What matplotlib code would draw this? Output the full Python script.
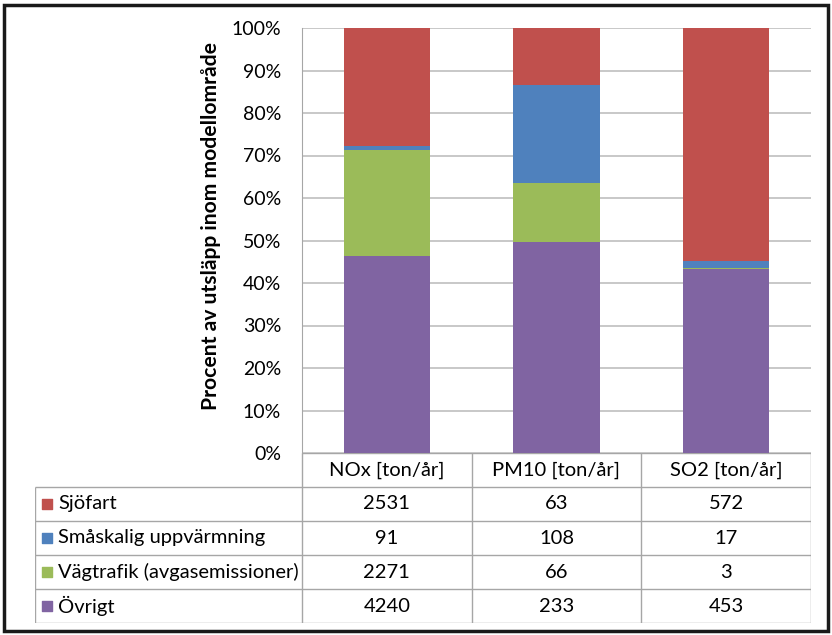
import matplotlib.pyplot as plt
from matplotlib.patches import Rectangle
import numpy as np

plt.rcParams['font.family'] = ['Lato', 'DejaVu Sans']

pollutants = ["NOx [ton/år]", "PM10 [ton/år]", "SO2 [ton/år]"]
sources = ["Sjöfart", "Småskalig uppvärmning", "Vägtrafik (avgasemissioner)", "Övrigt"]
sjofart = [2531, 63, 572]
smaskalig = [91, 108, 17]
vagtrafik = [2271, 66, 3]
ovrigt = [4240, 233, 453]
colors = {"Sjöfart": "#C0504D", "Småskalig uppvärmning": "#4F81BD",
          "Vägtrafik (avgasemissioner)": "#9BBB59", "Övrigt": "#8064A2"}

values = {"Sjöfart": sjofart, "Småskalig uppvärmning": smaskalig,
          "Vägtrafik (avgasemissioner)": vagtrafik, "Övrigt": ovrigt}
totals = np.sum([sjofart, smaskalig, vagtrafik, ovrigt], axis=0)

W, H = 832, 635
fig = plt.figure(figsize=(W / 100, H / 100), dpi=100)

def px_axes(x0, y0, x1, y1):
    return fig.add_axes([x0 / W, 1 - y1 / H, (x1 - x0) / W, (y1 - y0) / H])

grid_c = "#BFBFBF"
line_c = "#A6A6A6"
fs = 14.5

# stacked percentage bars
ax = px_axes(302, 28, 811, 453)
x = np.arange(len(pollutants))
bottom = np.zeros(len(pollutants))
for name in ["Övrigt", "Vägtrafik (avgasemissioner)", "Småskalig uppvärmning", "Sjöfart"]:
    pct = np.array(values[name]) / totals * 100
    ax.bar(x, pct, width=0.51, bottom=bottom, color=colors[name], zorder=3)
    bottom += pct
ax.set_xlim(-0.5, 2.5)
ax.set_ylim(0, 100)
ax.set_yticks(np.arange(0, 101, 10))
ax.set_yticklabels([f"{v}%" for v in range(0, 101, 10)], fontsize=14)
ax.tick_params(axis='y', length=0, pad=15)
ax.set_xticks([])
ax.grid(axis='y', color=grid_c, linewidth=1.2, zorder=0)
for s in ["top", "right", "bottom"]:
    ax.spines[s].set_visible(False)
ax.spines["left"].set_color(line_c)
ax.set_ylabel("Procent av utsläpp inom modellområde", fontsize=15.2, fontweight='bold')
ax.yaxis.set_label_coords(-0.16, 0.535)

# data table underneath, sharing the category scale
unit = (811 - 302) / 3
left = -0.5 - (302 - 35) / unit
tab = px_axes(35, 453, 811, 623)
tab.set_xlim(left, 2.5)
tab.set_ylim(5, 0)
tab.axis('off')
edges = [-0.5, 0.5, 1.5, 2.5]
tab.hlines(0, -0.5, 2.5, color=line_c, lw=1)
for r in range(1, 6):
    tab.hlines(r, left, 2.5, color=line_c, lw=1)
for e in edges:
    tab.vlines(e, 0, 5, color=line_c, lw=1)
tab.vlines(left + 0.002, 1, 5, color=line_c, lw=1)
for i, p in enumerate(pollutants):
    tab.text(i, 0.5, p, ha='center', va='center', fontsize=fs)
for r, name in enumerate(sources, start=1):
    tab.scatter(left + 0.07, r + 0.5, marker='s', s=55, color=colors[name], clip_on=False)
    tab.text(left + 0.135, r + 0.5, name, ha='left', va='center', fontsize=fs)
    for i, v in enumerate(values[name]):
        tab.text(i, r + 0.5, str(v), ha='center', va='center', fontsize=fs)

# outer frame
fig.patches.append(Rectangle((4 / W, 4 / H), 824 / W, 626 / H, transform=fig.transFigure,
                             fill=False, edgecolor="#1a1a1a", linewidth=2.5))

fig.savefig("out.png", dpi=100)
